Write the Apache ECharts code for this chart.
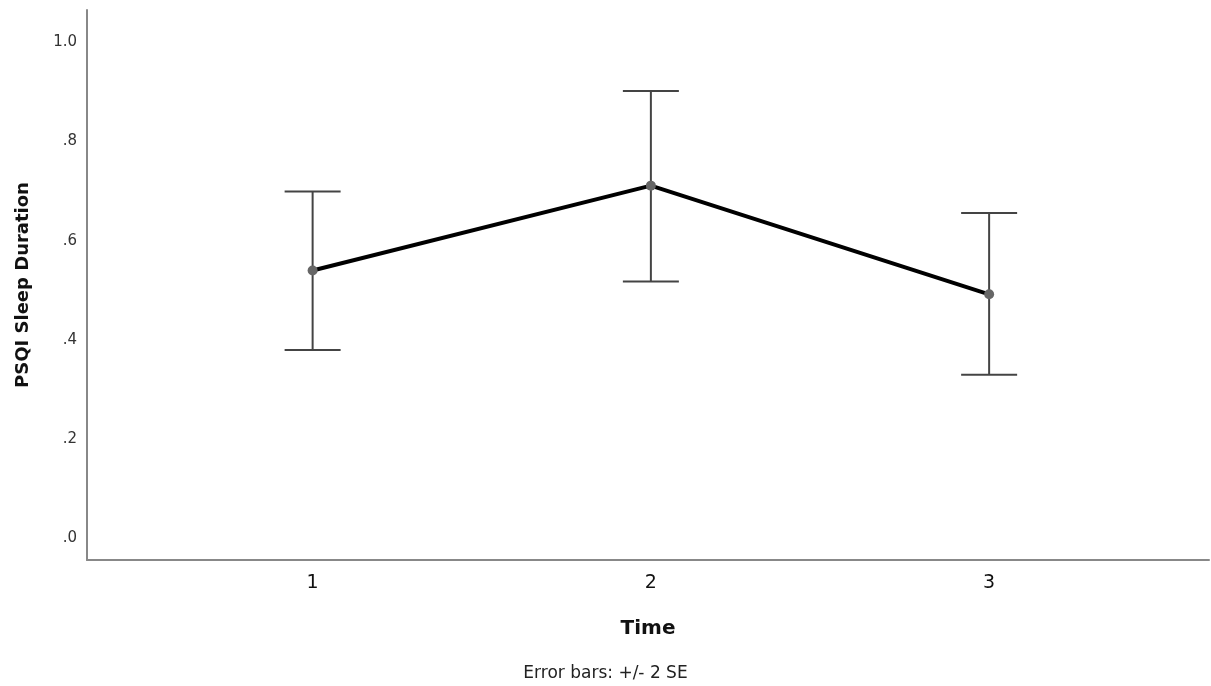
<!DOCTYPE html>
<html>
<head>
<meta charset="utf-8">
<script src="https://cdn.jsdelivr.net/npm/echarts@6/dist/echarts.min.js"></script>
<style>
html,body{margin:0;padding:0;background:#fff;}
#main{width:1211px;height:686px;}
</style>
</head>
<body>
<div id="main"></div>
<script>
var categories = [1, 2, 3];
var means = [0.533, 0.704, 0.485];
var upper = [0.692, 0.895, 0.649];
var lower = [0.373, 0.511, 0.323];
var yTicks = [0, 0.2, 0.4, 0.6, 0.8, 1.0];

var chart = echarts.init(document.getElementById('main'));

var lineData = categories.map(function (c, i) { return [c, means[i]]; });
var errData = categories.map(function (c, i) { return [c, lower[i], upper[i]]; });

function fmtY(v) {
  if (Math.abs(v - 1) < 1e-9) return '1.0';
  var s = v.toFixed(1);
  return s.replace(/^0/, '');
}

chart.setOption({
  animation: false,
  grid: { left: 87, right: 2, top: 10, bottom: 126 },
  xAxis: {
    type: 'value',
    min: 0.333,
    max: 3.65,
    axisLine: { show: true, onZero: false, lineStyle: { color: '#888', width: 2 } },
    axisTick: { show: false, customValues: categories },
    splitLine: { show: false },
    axisLabel: {
      color: '#111', fontSize: 19, fontFamily: 'DejaVu Sans', margin: 14,
      customValues: categories,
      hideOverlap: false,
      formatter: function (v) { return String(Math.round(v)); }
    },
    name: 'Time',
    nameLocation: 'middle',
    nameGap: 59,
    nameTextStyle: { fontSize: 20, fontWeight: 'bold', color: '#111', fontFamily: 'DejaVu Sans' }
  },
  yAxis: {
    type: 'value',
    min: -0.0504,
    max: 1.058,
    axisLine: { show: true, lineStyle: { color: '#888', width: 2 } },
    axisTick: { show: false },
    splitLine: { show: false },
    axisLabel: {
      customValues: yTicks,
      color: '#333', fontSize: 15, fontFamily: 'DejaVu Sans', margin: 10,
      verticalAlign: 'top', padding: [-4, 0, 0, 0],
      formatter: fmtY
    },
    name: 'PSQI Sleep Duration',
    nameLocation: 'middle',
    nameGap: 55,
    nameRotate: 90,
    nameTextStyle: { fontSize: 18, fontWeight: 'bold', color: '#111', fontFamily: 'DejaVu Sans' }
  },
  graphic: [{
    type: 'text',
    left: 'center',
    top: 665,
    style: { text: 'Error bars: +/- 2 SE', fontSize: 17, fill: '#222', fontFamily: 'DejaVu Sans' }
  }],
  series: [
    {
      type: 'custom',
      data: errData,
      z: 2,
      renderItem: function (params, api) {
        var x = api.value(0);
        var lo = api.coord([x, api.value(1)]);
        var hi = api.coord([x, api.value(2)]);
        var hw = 28;
        var style = { stroke: '#444', lineWidth: 2 };
        return {
          type: 'group',
          children: [
            { type: 'line', shape: { x1: lo[0], y1: lo[1], x2: hi[0], y2: hi[1] }, style: style },
            { type: 'line', shape: { x1: hi[0] - hw, y1: hi[1], x2: hi[0] + hw, y2: hi[1] }, style: style },
            { type: 'line', shape: { x1: lo[0] - hw, y1: lo[1], x2: lo[0] + hw, y2: lo[1] }, style: style }
          ]
        };
      }
    },
    {
      type: 'line',
      data: lineData,
      z: 3,
      lineStyle: { color: '#000', width: 4 },
      symbol: 'circle',
      symbolSize: 10,
      itemStyle: { color: '#666' },
      silent: true
    }
  ]
});
</script>
</body>
</html>
